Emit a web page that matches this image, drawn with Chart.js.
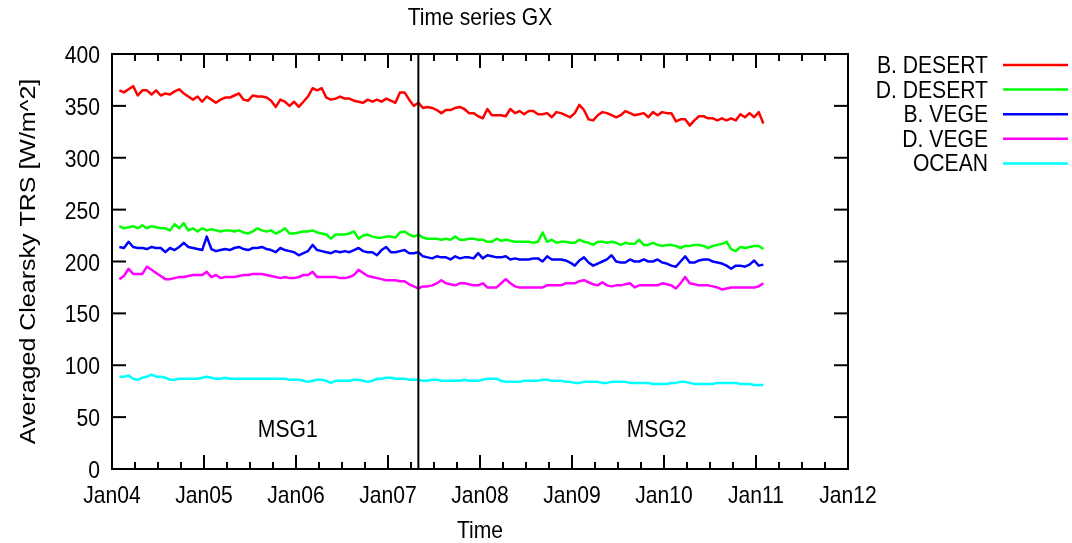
<!DOCTYPE html>
<html>
<head>
<meta charset="utf-8">
<script src="https://cdn.jsdelivr.net/npm/chart.js@4.4.1/dist/chart.umd.min.js"></script>
<style>
  html, body { margin: 0; padding: 0; background: #fff; }
  #c { display: block; }
</style>
</head>
<body>
<canvas id="c" width="1072" height="543"></canvas>
<script>
"use strict";

// sample times, decimal years (about every 18 days)
var START_YEAR = 2004.08,
    STEP = 0.05,
    N_POINTS = 141;
var dates = [];
for (var i = 0; i < N_POINTS; i++) {
    dates.push(START_YEAR + i * STEP);
}

var xTickYears = [2004, 2005, 2006, 2007, 2008, 2009, 2010, 2011, 2012];
var yTicks = [0, 50, 100, 150, 200, 250, 300, 350, 400];

var seriesNames = ['B. DESERT', 'D. DESERT', 'B. VEGE', 'D. VEGE', 'OCEAN'];

var bDesert = [
    365,363,366,369,360,365,365,361,365,360,
    362,361,364,366,362,359,356,359,354,359,
    356,353,356,358,358,360,362,356,355,360,
    359,359,358,355,349,356,354,350,354,349,
    354,359,367,365,367,358,356,357,359,357,
    357,355,354,353,356,354,356,354,357,355,
    353,363,363,356,350,353,348,349,
    348,346,343,346,346,348,349,347,343,343,
    340,338,347,341,341,341,340,347,343,345,
    342,345,345,342,342,343,339,344,343,341,
    339,343,351,346,337,336,341,344,343,341,
    339,341,345,343,341,342,343,339,344,341,
    344,343,343,335,337,337,331,336,340,340,
    338,338,336,338,336,338,336,342,339,343,
    339,344,333
];

var dDesert = [
    234,232,233,234,232,235,232,234,233,232,
    232,230,236,232,237,230,232,229,232,230,
    231,230,229,230,230,229,230,228,227,229,
    232,230,229,230,227,229,232,227,227,228,
    229,229,230,228,227,226,222,226,226,226,
    227,229,222,225,226,224,223,223,224,224,
    223,228,229,226,224,226,223,222,
    222,222,221,222,221,224,221,221,222,222,
    221,221,219,219,222,220,221,220,219,219,
    219,219,218,219,228,219,221,218,219,219,
    218,218,221,219,218,216,219,219,218,219,
    218,216,218,217,217,221,216,216,218,216,
    215,216,216,215,213,215,215,216,216,215,
    213,215,216,217,219,212,210,214,213,214,
    215,215,212
];

var bVege = [
    214,213,219,214,213,213,212,214,213,213,
    209,213,211,214,218,214,213,212,211,224,
    212,210,211,212,211,213,214,212,211,213,
    213,214,212,211,209,213,211,210,209,206,
    208,210,216,211,210,209,208,210,209,210,
    209,211,213,210,209,209,206,211,214,209,
    209,210,211,208,208,209,205,204,
    203,205,204,204,202,205,203,204,204,203,
    208,203,206,205,204,204,205,202,203,202,
    202,202,203,203,200,205,202,202,202,201,
    199,196,201,204,199,196,198,200,202,206,
    200,199,199,202,200,200,202,200,200,202,
    199,198,196,195,200,205,199,199,201,202,
    202,200,199,198,196,193,196,196,195,197,
    201,196,197
];

var dVege = [
    183,186,193,188,188,188,195,192,189,186,
    183,183,184,185,185,186,187,187,187,190,
    185,187,184,185,185,185,186,187,187,188,
    188,188,187,186,185,184,185,184,184,185,
    187,187,190,185,185,185,185,185,184,184,
    185,187,192,189,186,185,184,183,182,182,
    182,181,181,178,176,174,176,176,
    177,179,182,179,178,177,179,179,178,177,
    177,179,175,175,175,179,183,179,176,175,
    175,175,175,175,175,177,177,177,177,179,
    179,179,181,182,180,178,177,180,177,176,
    177,177,178,179,175,177,177,177,177,177,
    179,178,177,174,179,185,179,178,177,177,
    177,176,175,173,174,175,175,175,175,175,
    175,176,179
];

var ocean = [
    89,89,90,87,86,88,89,91,89,89,
    88,86,86,87,87,87,87,87,88,89,
    88,87,87,88,87,87,87,87,87,87,
    87,87,87,87,87,87,87,86,86,86,
    85,84,85,86,86,85,83,85,85,85,
    85,86,86,85,84,85,87,87,88,88,
    87,87,87,86,86,86,85,85,
    86,86,85,85,85,85,85,86,85,85,
    85,86,87,87,87,85,84,84,84,84,
    85,85,85,85,86,86,85,85,85,84,
    84,83,83,84,84,84,84,83,83,84,
    84,84,84,83,83,83,83,83,82,82,
    82,82,83,83,84,84,83,82,82,82,
    82,82,83,83,83,83,83,82,82,82,
    81,81,81
];

var seriesColors = ['#ff0000', '#00ff00', '#0000ff', '#ff00ff', '#00ffff'];

// satellite switch and annotation places (data units)
var MSG_SWITCH = 2007.33;
var msgLabels = [
    { text: 'MSG1', x: 2005.91, y: 31 },
    { text: 'MSG2', x: 2009.92, y: 31 }
];

var FONT = '"Liberation Sans", Arial, Helvetica, sans-serif';
var SQUEEZE = 0.88; // gnuplot output looks horizontally compressed

function drawText(ctx, str, x, y, align, baseline, size, rotate) {
    ctx.save();
    ctx.font = size + 'px ' + FONT;
    ctx.fillStyle = '#000';
    ctx.textAlign = align;
    ctx.textBaseline = baseline;
    ctx.translate(x, y);
    ctx.scale(SQUEEZE, 1);
    if (rotate) {
        ctx.rotate(-Math.PI / 2);
    }
    ctx.fillText(str, 0, 0);
    ctx.restore();
}

function line(ctx, x1, y1, x2, y2) {
    ctx.beginPath();
    ctx.moveTo(x1, y1);
    ctx.lineTo(x2, y2);
    ctx.stroke();
}

// gnuplot-like frame: inward mirrored ticks, labels, legend
var framePlugin = {
    id: 'frame',
    afterDraw: function(chart) {
        var ctx = chart.ctx,
            a = chart.chartArea,
            xs = chart.scales.x,
            ys = chart.scales.y;

        ctx.save();
        ctx.strokeStyle = '#000';
        ctx.lineWidth = 2;
        ctx.lineCap = 'butt';

        // quarterly minor ticks, yearly major ticks
        var first = xTickYears[0], last = xTickYears[xTickYears.length - 1];
        for (var q = 0; q <= (last - first) * 4; q++) {
            var px = xs.getPixelForValue(first + q / 4);
            var len = q % 4 === 0 ? 14 : 7;
            line(ctx, px, a.bottom, px, a.bottom - len);
            line(ctx, px, a.top, px, a.top + len);
        }
        yTicks.forEach(function(v) {
            var py = ys.getPixelForValue(v);
            line(ctx, a.left, py, a.left + 14, py);
            line(ctx, a.right, py, a.right - 14, py);
        });

        // MSG1 / MSG2 separator
        var sx = xs.getPixelForValue(MSG_SWITCH);
        line(ctx, sx, a.top, sx, a.bottom);

        ctx.strokeRect(a.left, a.top, a.right - a.left, a.bottom - a.top);

        // tick labels
        xTickYears.forEach(function(yr) {
            var lab = 'Jan' + String(yr % 100).padStart(2, '0');
            drawText(ctx, lab, xs.getPixelForValue(yr), a.bottom + 34, 'center', 'alphabetic', 24);
        });
        yTicks.forEach(function(v) {
            drawText(ctx, String(v), a.left - 12, ys.getPixelForValue(v) + 9, 'right', 'alphabetic', 24);
        });

        // titles
        var cx = (a.left + a.right) / 2;
        drawText(ctx, 'Time series GX', cx, 25, 'center', 'alphabetic', 24);
        drawText(ctx, 'Time', cx, 538, 'center', 'alphabetic', 24);
        drawText(ctx, 'Averaged Clearsky TRS [W/m^2]', 35, (a.top + a.bottom) / 2, 'center', 'alphabetic', 25, true);

        msgLabels.forEach(function(m) {
            drawText(ctx, m.text, xs.getPixelForValue(m.x), ys.getPixelForValue(m.y), 'center', 'alphabetic', 24);
        });

        // legend: label right-aligned, then a line sample
        chart.data.datasets.forEach(function(ds, k) {
            var ly = 65 + k * 24.6;
            drawText(ctx, ds.label, 988, ly + 8, 'right', 'alphabetic', 24);
            ctx.strokeStyle = ds.borderColor;
            ctx.lineWidth = 2.5;
            line(ctx, 1003, ly, 1068, ly);
        });

        ctx.restore();
    }
};

function toPoints(values) {
    return values.map(function(v, k) { return { x: dates[k], y: v }; });
}

var allSeries = [bDesert, dDesert, bVege, dVege, ocean];

var datasets = allSeries.map(function(vals, k) {
    return {
        label: seriesNames[k],
        data: toPoints(vals),
        borderColor: seriesColors[k],
        backgroundColor: seriesColors[k],
        borderWidth: 2.5,
        pointRadius: 0,
        tension: 0,
        fill: false,
        borderJoinStyle: 'round'
    };
});

new Chart(document.getElementById('c').getContext('2d'), {
    type: 'line',
    data: { datasets: datasets },
    options: {
        responsive: false,
        animation: false,
        devicePixelRatio: 1,
        layout: { padding: { left: 112, top: 54, right: 224, bottom: 74 } },
        plugins: {
            legend: { display: false },
            title: { display: false },
            tooltip: { enabled: false }
        },
        scales: {
            x: {
                type: 'linear',
                display: false,
                min: xTickYears[0],
                max: xTickYears[xTickYears.length - 1],
                ticks: { stepSize: 1 }
            },
            y: {
                type: 'linear',
                display: false,
                min: yTicks[0],
                max: yTicks[yTicks.length - 1],
                ticks: { stepSize: 50 }
            }
        }
    },
    plugins: [framePlugin]
});
</script>
</body>
</html>
